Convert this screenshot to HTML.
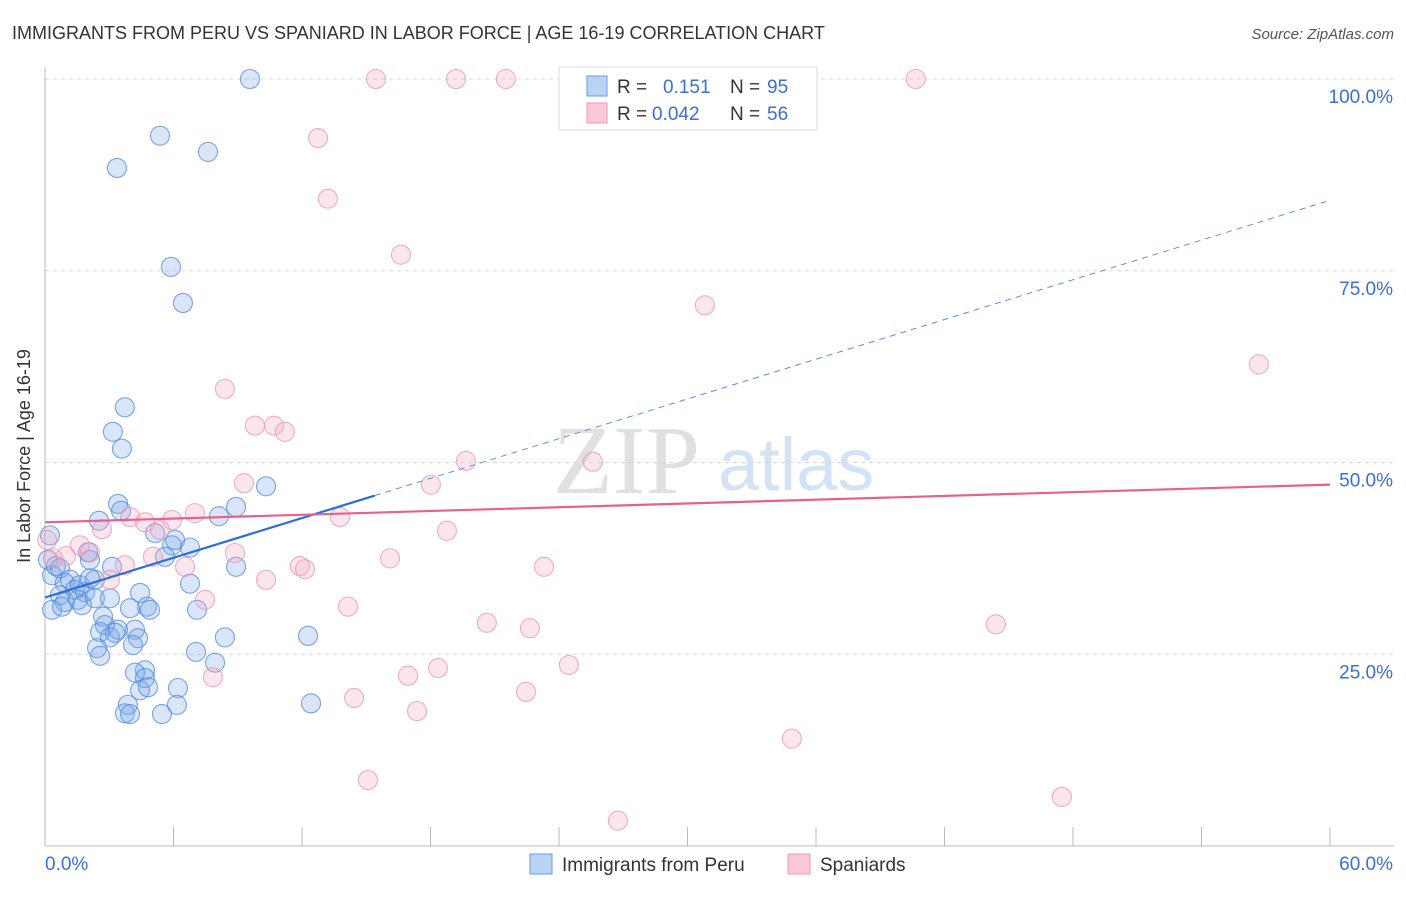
<!DOCTYPE html>
<html><head><meta charset="utf-8"><style>
body{margin:0;background:#fff;width:1406px;height:892px;overflow:hidden;font-family:"Liberation Sans",sans-serif}
</style></head><body>
<svg id="chart" width="1406" height="892" xmlns="http://www.w3.org/2000/svg" font-family="Liberation Sans, sans-serif">
<text x="12" y="39" font-size="18" fill="#333">IMMIGRANTS FROM PERU VS SPANIARD IN LABOR FORCE | AGE 16-19 CORRELATION CHART</text>
<text x="1394" y="39" font-size="15" fill="#555" font-style="italic" text-anchor="end">Source: ZipAtlas.com</text>
<g>
<text x="553" y="493" font-size="98" font-family="Liberation Serif, serif" fill="#e0e0e0">ZIP</text>
<text x="718" y="490" font-size="74" fill="#d4e3f4">atlas</text>
</g>
<g id="grid"></g>
<g id="axes"></g>
<g id="marks"></g>
<text x="30" y="456" font-size="18" fill="#333" transform="rotate(-90 30 456)" text-anchor="middle">In Labor Force | Age 16-19</text>
<g>
<rect x="559" y="67" width="258" height="63" fill="#fff" stroke="#ddd"/>
<rect x="587" y="76" width="20" height="20" fill="#b9d3f5" stroke="#6a9be0"/>
<rect x="587" y="103" width="20" height="20" fill="#f9c9d9" stroke="#ec9ab5"/>
<text x="617" y="93" font-size="19" fill="#333">R = </text><text x="663" y="93" font-size="19" fill="#3a6fd8">0.151</text>
<text x="730" y="93" font-size="19" fill="#333">N = </text><text x="767" y="93" font-size="19" fill="#3a6fd8">95</text>
<text x="617" y="120" font-size="19" fill="#333">R = </text><text x="652" y="120" font-size="19" fill="#3a6fd8">0.042</text>
<text x="730" y="120" font-size="19" fill="#333">N = </text><text x="767" y="120" font-size="19" fill="#3a6fd8">56</text>
</g>
<g>
<rect x="530" y="854" width="22" height="20" fill="#b9d3f5" stroke="#6a9be0"/>
<text x="562" y="871" font-size="19" fill="#333">Immigrants from Peru</text>
<rect x="788" y="854" width="22" height="20" fill="#f9c9d9" stroke="#ec9ab5"/>
<text x="820" y="871" font-size="19" fill="#333">Spaniards</text>
</g>
</svg>
<script>
const xTicks=[0,6,12,18,24,30,36,42,48,54,60];
const yTicks=[25,50,75,100];
const yTickLabels=["25.0%","50.0%","75.0%","100.0%"];
const xEndLabels=["0.0%","60.0%"];
const peruX=[9.57,5.37,7.61,3.36,5.88,6.44,3.73,3.17,3.59,10.32,3.41,3.55,8.92,8.12,2.52,5.14,5.93,6.77,5.60,0.23,0.14,0.33,0.51,0.70,2.10,2.01,3.13,8.92,0.93,1.17,1.40,1.63,1.87,2.33,2.10,0.70,0.93,1.54,1.73,2.33,3.03,4.44,4.76,4.90,3.97,6.77,7.10,0.33,0.79,2.71,2.80,2.57,3.03,3.41,4.20,4.34,8.40,12.28,2.43,2.57,4.11,7.05,7.94,4.67,4.20,4.67,4.44,4.81,6.21,3.87,3.73,3.97,5.46,6.16,12.42,3.27,6.07];
const peruY=[100,92.6,90.5,88.4,75.5,70.8,57.2,54.0,51.8,46.9,44.6,43.7,44.2,43.0,42.4,40.8,39.2,38.9,37.7,40.5,37.3,35.3,36.5,36.2,37.3,38.3,36.4,36.4,34.3,34.7,33.4,34.0,33.1,34.7,34.9,32.7,31.8,32.1,31.4,32.3,32.3,33.0,31.2,30.8,31.0,34.2,30.8,30.8,31.2,29.9,28.8,27.9,27.2,28.2,28.2,27.1,27.2,27.4,25.8,24.8,26.2,25.3,23.9,22.9,22.6,21.9,20.3,20.7,20.6,18.4,17.3,17.2,17.2,18.4,18.6,27.8,39.9];
const spanX=[15.45,19.19,21.52,40.66,12.75,13.21,16.62,30.81,56.68,8.40,9.80,10.69,11.20,19.65,25.58,9.29,18.02,7.00,3.97,4.67,2.66,13.77,5.93,18.77,5.37,0.1,1.63,2.10,0.98,0.37,8.87,3.73,5.04,6.54,11.90,12.14,16.11,23.30,10.32,3.03,7.47,14.15,20.63,22.64,44.40,7.84,18.35,16.95,24.46,14.43,22.46,17.37,34.87,15.08,47.48,26.75];
const spanY=[100,100,100,100,92.3,84.4,77.1,70.5,62.8,59.6,54.8,54.8,54.0,50.2,50.1,47.3,47.1,43.4,42.9,42.2,41.3,42.9,42.5,41.1,41.2,39.9,39.2,38.3,37.8,37.5,38.2,36.6,37.7,36.4,36.5,36.1,37.5,36.4,34.7,34.7,32.1,31.2,29.1,28.4,28.9,22.0,23.2,22.2,23.6,19.3,20.1,17.6,14.0,8.6,6.4,3.3];
const peruTrend=[32.4,0.863,15.4];
const spanTrend=[42.2,0.082];

const NS="http://www.w3.org/2000/svg";
const sx=v=>45+v/60*1285;
const sy=v=>846-v/100*767;
function mk(tag,attrs,parent){const e=document.createElementNS(NS,tag);for(const k in attrs)e.setAttribute(k,attrs[k]);parent.appendChild(e);return e;}
const grid=document.getElementById('grid'),axes=document.getElementById('axes'),marks=document.getElementById('marks');
yTicks.forEach((t,i)=>{
 const l=mk('line',{x1:45,x2:1394,y1:sy(t),y2:sy(t),stroke:'#d8d8d8','stroke-dasharray':'4,4'},grid);
 
 
 const tx=mk('text',{x:1393,y:sy(t)+24,'font-size':19,fill:'#3a6fd8','text-anchor':'end'},axes);
 tx.textContent=yTickLabels[i];
 
 
});
const yax=mk('line',{x1:45,x2:45,y1:67,y2:846,stroke:'#bbb'},axes);


const xax=mk('line',{x1:45,x2:1394,y1:846,y2:846,stroke:'#bbb'},axes);


xTicks.forEach(t=>{
 const l=mk('line',{x1:sx(t),x2:sx(t),y1:827,y2:846,stroke:'#bbb'},axes);
 
 
});
[[0,'start',45],[60,'end',1393]].forEach((d,i)=>{
 const tx=mk('text',{x:d[2],y:870,'font-size':19,fill:'#3a6fd8','text-anchor':d[1]},axes);
 tx.textContent=xEndLabels[i];
 
 
});
peruX.forEach((x,i)=>{
 const c=mk('circle',{cx:sx(x),cy:sy(peruY[i]),r:9.5,fill:'rgba(120,165,235,0.28)',stroke:'rgba(80,135,220,0.75)','stroke-width':1.1},marks);
 
 
});
spanX.forEach((x,i)=>{
 const c=mk('circle',{cx:sx(x),cy:sy(spanY[i]),r:9.5,fill:'rgba(245,165,195,0.28)',stroke:'rgba(235,145,180,0.75)','stroke-width':1.1},marks);
 
 
});
const pf=x=>peruTrend[0]+peruTrend[1]*x;
const l1=mk('line',{x1:sx(0),y1:sy(pf(0)),x2:sx(peruTrend[2]),y2:sy(pf(peruTrend[2])),stroke:'#2a6fd6','stroke-width':2.2},marks);


const l2=mk('line',{x1:sx(peruTrend[2]),y1:sy(pf(peruTrend[2])),x2:sx(60),y2:sy(pf(60)),stroke:'#5a8ee0','stroke-width':1,'stroke-dasharray':'6,5'},marks);


const sf=x=>spanTrend[0]+spanTrend[1]*x;
const l3=mk('line',{x1:sx(0),y1:sy(sf(0)),x2:sx(60),y2:sy(sf(60)),stroke:'#e8608d','stroke-width':2.2},marks);


</script>
</body></html>
